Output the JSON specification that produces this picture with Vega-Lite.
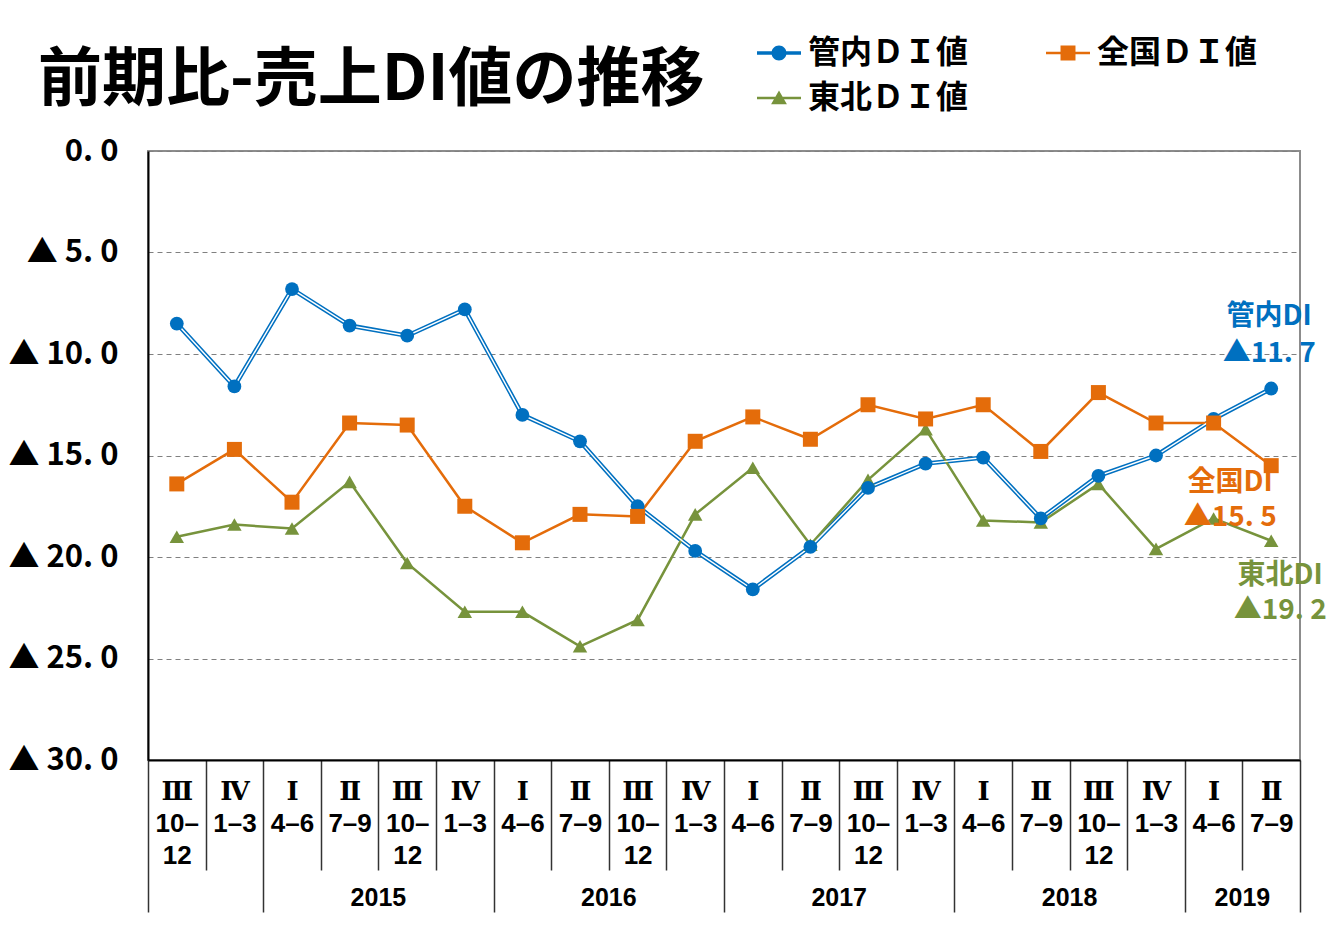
{
"$schema": "https://vega.github.io/schema/vega-lite/v6.json",
"width": 1152, "height": 609,
"autosize": {"type": "none"},
"padding": {"left": 148, "top": 151, "right": 43, "bottom": 184},
"background": "#ffffff",
"title": {"text": "前期比-売上DI値の推移", "anchor": "start", "frame": "group", "dx": -110, "offset": -133, "font": "Noto Sans CJK JP", "fontSize": 64, "fontWeight": "bold", "color": "#000000", "baseline": "alphabetic"},
"config": {"view": {"stroke": "#8c8c8c", "strokeWidth": 2}},
"datasets": {
"di": [
{"c":"14-3","s":"管内ＤＩ値","v":-8.5},{"c":"14-4","s":"管内ＤＩ値","v":-11.6},{"c":"15-1","s":"管内ＤＩ値","v":-6.8},{"c":"15-2","s":"管内ＤＩ値","v":-8.6},{"c":"15-3","s":"管内ＤＩ値","v":-9.1},{"c":"15-4","s":"管内ＤＩ値","v":-7.8},{"c":"16-1","s":"管内ＤＩ値","v":-13.0},{"c":"16-2","s":"管内ＤＩ値","v":-14.3},{"c":"16-3","s":"管内ＤＩ値","v":-17.5},{"c":"16-4","s":"管内ＤＩ値","v":-19.7},{"c":"17-1","s":"管内ＤＩ値","v":-21.6},{"c":"17-2","s":"管内ＤＩ値","v":-19.5},{"c":"17-3","s":"管内ＤＩ値","v":-16.6},{"c":"17-4","s":"管内ＤＩ値","v":-15.4},{"c":"18-1","s":"管内ＤＩ値","v":-15.1},{"c":"18-2","s":"管内ＤＩ値","v":-18.1},{"c":"18-3","s":"管内ＤＩ値","v":-16.0},{"c":"18-4","s":"管内ＤＩ値","v":-15.0},{"c":"19-1","s":"管内ＤＩ値","v":-13.2},{"c":"19-2","s":"管内ＤＩ値","v":-11.7},
{"c":"14-3","s":"全国ＤＩ値","v":-16.4},{"c":"14-4","s":"全国ＤＩ値","v":-14.7},{"c":"15-1","s":"全国ＤＩ値","v":-17.3},{"c":"15-2","s":"全国ＤＩ値","v":-13.4},{"c":"15-3","s":"全国ＤＩ値","v":-13.5},{"c":"15-4","s":"全国ＤＩ値","v":-17.5},{"c":"16-1","s":"全国ＤＩ値","v":-19.3},{"c":"16-2","s":"全国ＤＩ値","v":-17.9},{"c":"16-3","s":"全国ＤＩ値","v":-18.0},{"c":"16-4","s":"全国ＤＩ値","v":-14.3},{"c":"17-1","s":"全国ＤＩ値","v":-13.1},{"c":"17-2","s":"全国ＤＩ値","v":-14.2},{"c":"17-3","s":"全国ＤＩ値","v":-12.5},{"c":"17-4","s":"全国ＤＩ値","v":-13.2},{"c":"18-1","s":"全国ＤＩ値","v":-12.5},{"c":"18-2","s":"全国ＤＩ値","v":-14.8},{"c":"18-3","s":"全国ＤＩ値","v":-11.9},{"c":"18-4","s":"全国ＤＩ値","v":-13.4},{"c":"19-1","s":"全国ＤＩ値","v":-13.4},{"c":"19-2","s":"全国ＤＩ値","v":-15.5},
{"c":"14-3","s":"東北ＤＩ値","v":-19.0},{"c":"14-4","s":"東北ＤＩ値","v":-18.4},{"c":"15-1","s":"東北ＤＩ値","v":-18.6},{"c":"15-2","s":"東北ＤＩ値","v":-16.3},{"c":"15-3","s":"東北ＤＩ値","v":-20.3},{"c":"15-4","s":"東北ＤＩ値","v":-22.7},{"c":"16-1","s":"東北ＤＩ値","v":-22.7},{"c":"16-2","s":"東北ＤＩ値","v":-24.4},{"c":"16-3","s":"東北ＤＩ値","v":-23.1},{"c":"16-4","s":"東北ＤＩ値","v":-17.9},{"c":"17-1","s":"東北ＤＩ値","v":-15.6},{"c":"17-2","s":"東北ＤＩ値","v":-19.4},{"c":"17-3","s":"東北ＤＩ値","v":-16.2},{"c":"17-4","s":"東北ＤＩ値","v":-13.7},{"c":"18-1","s":"東北ＤＩ値","v":-18.2},{"c":"18-2","s":"東北ＤＩ値","v":-18.3},{"c":"18-3","s":"東北ＤＩ値","v":-16.4},{"c":"18-4","s":"東北ＤＩ値","v":-19.6},{"c":"19-1","s":"東北ＤＩ値","v":-18.1},{"c":"19-2","s":"東北ＤＩ値","v":-19.2}
],
"years": [{"c":"15-3","t":"2015"},{"c":"16-3","t":"2016"},{"c":"17-3","t":"2017"},{"c":"18-3","t":"2018"},{"c":"19-2","t":"2019"}],
"ends": [
{"c":"19-2","s":"管内ＤＩ値","v":-11.7,"t":"管内DI\n▲11. 7"},
{"c":"19-2","s":"全国ＤＩ値","v":-15.5,"t":"全国DI\n▲15. 5"},
{"c":"19-2","s":"東北ＤＩ値","v":-19.2,"t":"東北DI\n▲19. 2"}
]
},
"data": {"name": "di"},
"layer": [
{
"mark": {"type": "line"},
"encoding": {
"x": {"field": "c", "type": "ordinal",
 "scale": {"type": "band", "domain": ["14-3","14-4","15-1","15-2","15-3","15-4","16-1","16-2","16-3","16-4","17-1","17-2","17-3","17-4","18-1","18-2","18-3","18-4","19-1","19-2"], "paddingInner": 0, "paddingOuter": 0},
 "axis": {"title": null, "domainColor": "#000000", "domainWidth": 2, "grid": false,
  "tickBand": "extent", "tickColor": "#333333", "tickWidth": 1.5,
  "tickSize": {"condition": {"test": "!isString(datum.value) || datum.extra || indexof(['14-4','15-4','16-4','17-4','18-4','19-2'], datum.value) >= 0", "value": 152}, "value": 110},
  "labelPadding": {"condition": {"test": "!isString(datum.value) || datum.extra || indexof(['14-4','15-4','16-4','17-4','18-4','19-2'], datum.value) >= 0", "value": -134}, "value": -92},
  "labelExpr": "isString(datum.value) ? (slice(datum.value,-1)=='1' ? ['Ⅰ','4–6'] : slice(datum.value,-1)=='2' ? ['Ⅱ','7–9'] : slice(datum.value,-1)=='3' ? ['Ⅲ','10–','12'] : ['Ⅳ','1–3']) : ''",
  "labelFont": "Liberation Sans, DejaVu Serif, Noto Sans CJK JP", "labelFontSize": 26, "labelFontWeight": "bold", "labelLineHeight": 32,
  "labelBaseline": "top", "labelAngle": 0, "labelColor": "#000000", "labelOverlap": false, "labelBound": false, "labelFlush": false}},
"y": {"field": "v", "type": "quantitative",
 "scale": {"domain": [-30, 0], "nice": false, "zero": false},
 "axis": {"title": null, "values": [-30,-25,-20,-15,-10,-5,0],
  "labelExpr": "datum.value == 0 ? '0. 0' : '▲ ' + abs(datum.value) + '. 0'",
  "labelFont": "Noto Sans CJK JP", "labelFontSize": 31, "labelFontWeight": "bold", "labelColor": "#000000", "labelPadding": 30,
  "ticks": false, "domainColor": "#000000", "domainWidth": 2,
  "grid": true, "gridColor": "#808080", "gridDash": [5, 4], "gridWidth": 1}},
"color": {"field": "s", "type": "nominal",
 "scale": {"domain": ["管内ＤＩ値","全国ＤＩ値","東北ＤＩ値"], "range": ["#0070C0","#E46C0A","#77933C"]},
 "legend": {"title": null, "orient": "none", "legendX": 609, "legendY": -120, "columns": 2, "direction": "horizontal",
  "symbolSize": 1936, "symbolStrokeWidth": 0,
  "labelFont": "Noto Sans CJK JP", "labelFontSize": 32, "labelFontWeight": "bold", "labelColor": "#000000", "labelLimit": 400, "labelOffset": 7,
  "columnPadding": 77, "rowPadding": 7, "padding": 0,
  "encode": {"symbols": {"update": {
   "shape": {"signal": "datum.value === '管内ＤＩ値' ? 'M-1,-0.08H1V0.08H-1Z M0.34,0A0.34,0.34,0,1,1,-0.34,0A0.34,0.34,0,1,1,0.34,0Z' : datum.value === '全国ＤＩ値' ? 'M-1,-0.06H1V0.06H-1Z M-0.34,-0.34H0.34V0.34H-0.34Z' : 'M-1,-0.06H1V0.06H-1Z M0,-0.34L0.36,0.28H-0.36Z'"},
   "fill": {"scale": "color", "field": "value"},
   "fillOpacity": {"value": 1},
   "stroke": {"value": "transparent"}}}}}},
"strokeWidth": {"condition": {"test": "datum.s === '管内ＤＩ値'", "value": 4.5}, "value": 2.5}
}
},
{
"transform": [{"filter": "datum.s === '管内ＤＩ値'"}],
"mark": {"type": "line", "color": "#ffffff", "strokeWidth": 1.4},
"encoding": {"x": {"field": "c", "type": "ordinal"}, "y": {"field": "v", "type": "quantitative"}}
},
{
"transform": [{"filter": "datum.s === '東北ＤＩ値'"}],
"mark": {"type": "point", "shape": "triangle-up", "filled": true, "size": 210, "color": "#77933C", "opacity": 1},
"encoding": {"x": {"field": "c", "type": "ordinal"}, "y": {"field": "v", "type": "quantitative"}}
},
{
"transform": [{"filter": "datum.s === '管内ＤＩ値'"}],
"mark": {"type": "point", "shape": "circle", "filled": true, "size": 190, "color": "#0070C0", "opacity": 1},
"encoding": {"x": {"field": "c", "type": "ordinal"}, "y": {"field": "v", "type": "quantitative"}}
},
{
"transform": [{"filter": "datum.s === '全国ＤＩ値'"}],
"mark": {"type": "point", "shape": "square", "filled": true, "size": 225, "color": "#E46C0A", "opacity": 1},
"encoding": {"x": {"field": "c", "type": "ordinal"}, "y": {"field": "v", "type": "quantitative"}}
},
{
"data": {"name": "years"},
"mark": {"type": "text", "align": "center", "baseline": "middle", "font": "Liberation Sans", "fontSize": 25, "fontWeight": "bold", "color": "#000000"},
"encoding": {"x": {"field": "c", "type": "ordinal", "bandPosition": 0}, "y": {"datum": -36.8, "type": "quantitative"}, "text": {"field": "t"}}
},
{
"data": {"name": "ends"},
"transform": [{"filter": "datum.s === '管内ＤＩ値'"}],
"mark": {"type": "text", "lineBreak": "\n", "lineHeight": 37, "align": "center", "baseline": "top", "dx": -2, "dy": -86, "font": "Noto Sans CJK JP", "fontSize": 28, "fontWeight": "bold", "color": "#0070C0"},
"encoding": {"x": {"field": "c", "type": "ordinal"}, "y": {"field": "v", "type": "quantitative"}, "text": {"field": "t"}}
},
{
"data": {"name": "ends"},
"transform": [{"filter": "datum.s === '全国ＤＩ値'"}],
"mark": {"type": "text", "lineBreak": "\n", "lineHeight": 35, "align": "center", "baseline": "top", "dx": -41, "dy": 3, "font": "Noto Sans CJK JP", "fontSize": 28, "fontWeight": "bold", "color": "#E46C0A"},
"encoding": {"x": {"field": "c", "type": "ordinal"}, "y": {"field": "v", "type": "quantitative"}, "text": {"field": "t"}}
},
{
"data": {"name": "ends"},
"transform": [{"filter": "datum.s === '東北ＤＩ値'"}],
"mark": {"type": "text", "lineBreak": "\n", "lineHeight": 35, "align": "center", "baseline": "top", "dx": 9, "dy": 21, "font": "Noto Sans CJK JP", "fontSize": 28, "fontWeight": "bold", "color": "#77933C"},
"encoding": {"x": {"field": "c", "type": "ordinal"}, "y": {"field": "v", "type": "quantitative"}, "text": {"field": "t"}}
}
]
}
